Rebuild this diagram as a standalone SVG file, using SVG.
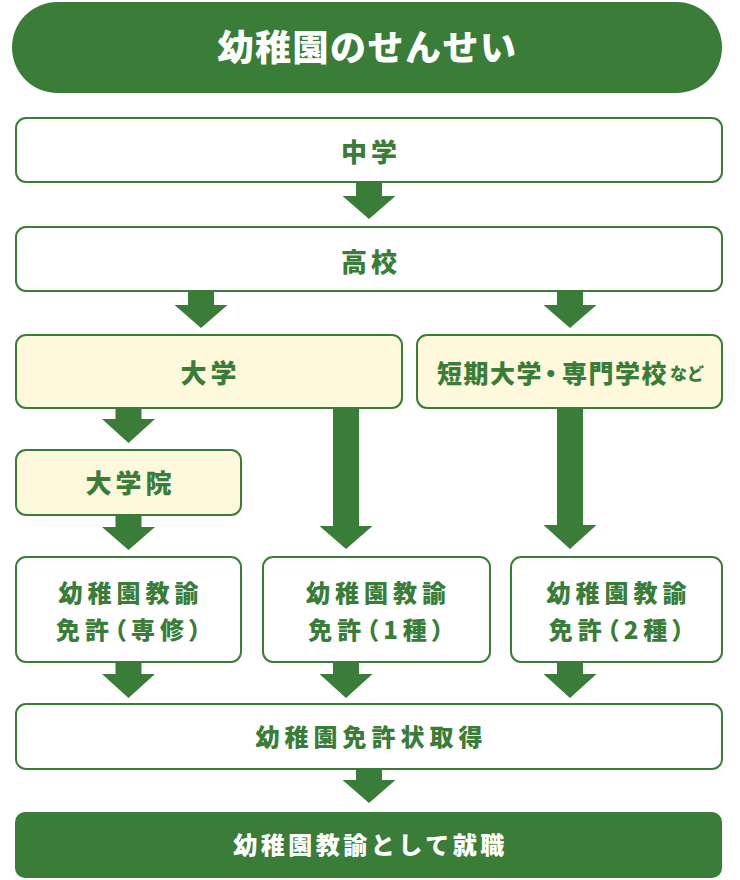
<svg xmlns="http://www.w3.org/2000/svg" width="740" height="880" viewBox="0 0 740 880">
<style>
.box{fill:#ffffff;stroke:#3a7d38;stroke-width:2}
.ybox{fill:#fef8dc;stroke:#3a7d38;stroke-width:2}
.gbox{fill:#3a7d38}
.arr{fill:#3a7d38}
text{font-family:"Noto Sans CJK JP","Noto Sans",sans-serif;font-weight:900;dominant-baseline:central;text-anchor:middle}
.t{fill:#3a7d38;font-size:24px;letter-spacing:5px}
.tl{fill:#3a7d38;font-size:26px;letter-spacing:4px}
.w{fill:#ffffff}
.p{font-feature-settings:"palt"}
</style>
<rect width="740" height="880" fill="#ffffff"/>
<g id="title">
<rect class="gbox" x="12" y="2" width="710" height="91" rx="45.5"/>
<text class="w" x="367.5" y="44.5" style="font-size:36px;letter-spacing:1.5px">幼稚園のせんせい</text>
</g>
<g id="chugaku">
<rect class="box" x="16" y="118" width="706" height="64" rx="10"/>
<text class="tl" x="371" y="150.5">中学</text>
</g>
<g id="koko">
<rect class="box" x="16" y="227" width="706" height="64" rx="10"/>
<text class="tl" x="371" y="260">高校</text>
</g>
<g id="daigaku">
<rect class="ybox" x="16" y="335" width="386" height="73" rx="10"/>
<text class="tl" x="210.5" y="371.5">大学</text>
</g>
<g id="tandai">
<rect class="ybox" x="417" y="335" width="305" height="73" rx="10"/>
<text x="437" y="371.5" style="fill:#3a7d38;font-size:25px;letter-spacing:1.5px;text-anchor:start">短期大学<tspan class="p" dx="1.5" letter-spacing="5">・</tspan>専門学校<tspan style="font-size:17px;letter-spacing:0px" dx="2">など</tspan></text>
</g>
<g id="daigakuin">
<rect class="ybox" x="16" y="450" width="225" height="65" rx="10"/>
<text class="tl" x="130.5" y="481.5">大学院</text>
</g>
<g id="senshu">
<rect class="box" x="16" y="557" width="225" height="105" rx="10"/>
<text class="t" x="131" y="591.5">幼稚園教諭</text>
<text class="t p" x="131" y="628.5">免許（専修）</text>
</g>
<g id="isshu">
<rect class="box" x="263" y="557" width="227" height="105" rx="10"/>
<text class="t" x="378.5" y="591.5">幼稚園教諭</text>
<text class="t p" x="378.5" y="628.5">免許（1種）</text>
</g>
<g id="nishu">
<rect class="box" x="511" y="557" width="211" height="105" rx="10"/>
<text class="t" x="619" y="591.5">幼稚園教諭</text>
<text class="t p" x="619" y="628.5">免許（2種）</text>
</g>
<g id="menkyo">
<rect class="box" x="16" y="704" width="706" height="65" rx="10"/>
<text class="t" x="371.5" y="735.5">幼稚園免許状取得</text>
</g>
<g id="shushoku">
<rect class="gbox" x="15" y="812" width="707" height="66" rx="10"/>
<text class="t w" x="370.5" y="843.5" style="letter-spacing:3.5px">幼稚園教諭として就職</text>
</g>
<g id="connectors">
<polygon class="arr" points="356,182 382,182 382,196 395.5,196 369,219 342.5,196 356,196"/>
<polygon class="arr" points="188,292 214,292 214,305 227.5,305 201,328 174.5,305 188,305"/>
<polygon class="arr" points="557,292 583,292 583,305 596.5,305 570,328 543.5,305 557,305"/>
<polygon class="arr" points="115.5,408 141.5,408 141.5,419 155,419 128.5,443 102,419 115.5,419"/>
<polygon class="arr" points="333,408 359,408 359,526 372.5,526 346,549 319.5,526 333,526"/>
<polygon class="arr" points="557,408 583,408 583,525 596.5,525 570,549 543.5,525 557,525"/>
<polygon class="arr" points="115.5,515 141.5,515 141.5,527 155,527 128.5,550 102,527 115.5,527"/>
<polygon class="arr" points="115.5,662 141.5,662 141.5,674 155,674 128.5,698 102,674 115.5,674"/>
<polygon class="arr" points="333,662 359,662 359,674 372.5,674 346,698 319.5,674 333,674"/>
<polygon class="arr" points="557,662 583,662 583,674 596.5,674 570,698 543.5,674 557,674"/>
<polygon class="arr" points="356,769 382,769 382,780 395.5,780 369,803 342.5,780 356,780"/>
</g>
</svg>
